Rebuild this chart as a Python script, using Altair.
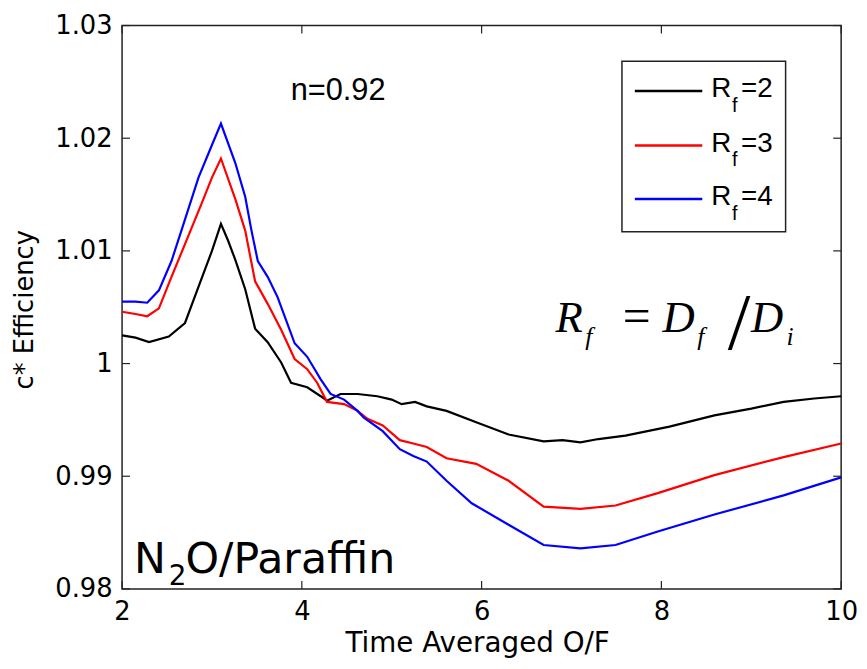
import altair as alt
import pandas as pd

# ---- data ----
x_rf2 = [2.0, 2.15, 2.3, 2.52, 2.7, 2.85, 3.0, 3.1, 3.18, 3.26, 3.37, 3.48, 3.62, 3.77, 3.88,
         4.06, 4.21, 4.28, 4.43, 4.62, 4.84, 5.0, 5.11, 5.26, 5.39, 5.61, 5.94, 6.3, 6.69, 6.9,
         7.1, 7.3, 7.6, 8.09, 8.59, 9.0, 9.36, 9.7, 10.0]
y_rf2 = [1.0025, 1.0023, 1.0019, 1.0024, 1.0036, 1.0068, 1.0100, 1.0124, 1.0109, 1.0092, 1.0066,
         1.0031, 1.0019, 1.0001, 0.9983, 0.9979, 0.9971, 0.9967, 0.9973, 0.9973, 0.9971, 0.9968,
         0.9964, 0.9966, 0.9962, 0.9958, 0.9948, 0.9937, 0.9931, 0.9932, 0.9930, 0.9933, 0.9936,
         0.9944, 0.9954, 0.9960, 0.9966, 0.9969, 0.9971]

x_rf3 = [2.0, 2.15, 2.28, 2.41, 2.55, 2.7, 2.88, 3.0, 3.1, 3.26, 3.37, 3.48, 3.62, 3.77, 3.92,
         4.06, 4.17, 4.28, 4.47, 4.62, 4.73, 4.9, 5.09, 5.24, 5.39, 5.61, 5.94, 6.3, 6.69, 7.1,
         7.49, 7.96, 8.59, 9.36, 10.0]
y_rf3 = [1.0046, 1.0044, 1.0042, 1.0049, 1.0077, 1.0106, 1.0141, 1.0165, 1.0182, 1.0146, 1.0118,
         1.0073, 1.0053, 1.0030, 1.0004, 0.9995, 0.9983, 0.9966, 0.9964, 0.9958, 0.9951, 0.9945,
         0.9932, 0.9929, 0.9926, 0.9916, 0.9911, 0.9896, 0.9873, 0.9871, 0.9874, 0.9885, 0.9901,
         0.9917, 0.9929]

x_rf4 = [2.0, 2.15, 2.28, 2.41, 2.55, 2.66, 2.85, 3.0, 3.1, 3.26, 3.37, 3.44, 3.51, 3.62, 3.73,
         3.92, 4.06, 4.21, 4.32, 4.47, 4.62, 4.69, 4.9, 5.09, 5.24, 5.39, 5.61, 5.89, 6.3, 6.69,
         7.1, 7.49, 7.96, 8.59, 9.36, 10.0]
y_rf4 = [1.0055, 1.0055, 1.0054, 1.0065, 1.0091, 1.0118, 1.0165, 1.0194, 1.0213, 1.0178, 1.0148,
         1.0118, 1.0091, 1.0077, 1.0059, 1.0018, 1.0006, 0.9986, 0.9973, 0.9968, 0.9958, 0.9952,
         0.9940, 0.9924, 0.9918, 0.9913, 0.9896, 0.9876, 0.9857, 0.9839, 0.9836, 0.9839, 0.9851,
         0.9866, 0.9883, 0.9899]

series_names = ["Rf=2", "Rf=3", "Rf=4"]
series_colors = ["#000000", "#ff0000", "#0000ff"]
x_ticks = [2, 4, 6, 8, 10]
y_ticks = [0.98, 0.99, 1.0, 1.01, 1.02, 1.03]

W, H = 725, 568
SANS = "DejaVu Sans"
ARIAL = "Liberation Sans"
SERIF = "Liberation Serif"

rows = []
for name, xs, ys in zip(series_names, [x_rf2, x_rf3, x_rf4], [y_rf2, y_rf3, y_rf4]):
    for xv, yv in zip(xs, ys):
        rows.append({"x": xv, "y": yv, "series": name})
df = pd.DataFrame(rows)

xscale = alt.Scale(domain=[2, 10], nice=False, zero=False)
yscale = alt.Scale(domain=[0.98, 1.03], nice=False, zero=False)

lines = alt.Chart(df).mark_line(strokeWidth=2.2).encode(
    x=alt.X("x:Q", scale=xscale, axis=alt.Axis(
        values=x_ticks, format="d", title="Time Averaged O/F", ticks=False, tickSize=0, domain=False,
        grid=False, labelPadding=10, labelFlush=False, labelOverlap=False,
        labelFont=SANS, labelFontSize=26, labelColor="black",
        titleFont=SANS, titleFontSize=28, titleFontWeight="normal", titleColor="black",
        titleX=358, titleY=63, titleBaseline="alphabetic", titleAlign="center")),
    y=alt.Y("y:Q", scale=yscale, axis=alt.Axis(
        values=y_ticks, title="c* Efficiency", ticks=False, tickSize=0, domain=False,
        grid=False, labelPadding=10, labelOverlap=False,
        labelExpr="datum.value == 1 ? '1' : format(datum.value, '.2f')",
        labelFont=SANS, labelFontSize=26, labelColor="black",
        titleFont=SANS, titleFontSize=26, titleFontWeight="normal", titleColor="black",
        titleX=-90, titleY=286, titleAngle=270, titleBaseline="alphabetic", titleAlign="center")),
    color=alt.Color("series:N", scale=alt.Scale(domain=series_names, range=series_colors), legend=None),
    order=alt.Order("x:Q"),
)

xt = pd.DataFrame({"xt": x_ticks})
yt = pd.DataFrame({"yt": y_ticks})
TL = 8
tick_color = "#222222"
ticks_bottom = alt.Chart(xt).mark_rule(color=tick_color, strokeWidth=1.2).encode(
    x=alt.X("xt:Q", scale=xscale), y=alt.value(H), y2=alt.value(H - TL))
ticks_top = alt.Chart(xt).mark_rule(color=tick_color, strokeWidth=1.2).encode(
    x=alt.X("xt:Q", scale=xscale), y=alt.value(0), y2=alt.value(TL))
ticks_left = alt.Chart(yt).mark_rule(color=tick_color, strokeWidth=1.2).encode(
    y=alt.Y("yt:Q", scale=yscale), x=alt.value(0), x2=alt.value(TL))
ticks_right = alt.Chart(yt).mark_rule(color=tick_color, strokeWidth=1.2).encode(
    y=alt.Y("yt:Q", scale=yscale), x=alt.value(W), x2=alt.value(W - TL))


def label(text, x, y, font, size, italic=False, align="left"):
    return alt.Chart(pd.DataFrame({"t": [text]})).mark_text(
        font=font, fontSize=size, fontStyle="italic" if italic else "normal",
        align=align, baseline="alphabetic", color="black").encode(
        text="t:N", x=alt.value(x), y=alt.value(y))


layers = [lines, ticks_bottom, ticks_top, ticks_left, ticks_right]

# annotations
layers.append(label("n=0.92", 170, 75, ARIAL, 31))
layers += [
    label("N", 12, 552, SANS, 43),
    label("2", 47, 564, SANS, 28),
    label("O/Paraffin", 64, 552, SANS, 43),
]
layers += [
    label("R", 437, 309, SERIF, 45, italic=True),
    label("f", 467, 322, SERIF, 26, italic=True),
    label("=", 519, 309, SERIF, 50, align="center"),
    label("D", 545, 309, SERIF, 45, italic=True),
    label("f", 580, 322, SERIF, 26, italic=True),
    label("/", 622, 326, SERIF, 82, align="center"),
    label("D", 634, 309, SERIF, 45, italic=True),
    label("i", 670, 322, SERIF, 26, italic=True),
]

# legend
legend_box = alt.Chart(pd.DataFrame({"a": [0]})).mark_rect(
    fill="white", stroke="#222222", strokeWidth=1.5).encode(
    x=alt.value(504), x2=alt.value(669), y=alt.value(36), y2=alt.value(208))
layers.append(legend_box)
row_y = [66, 121, 175]
for name, col, ry in zip(series_names, series_colors, row_y):
    layers.append(alt.Chart(pd.DataFrame({"s": [name]})).mark_rule(color=col, strokeWidth=2.5).encode(
        x=alt.value(517), x2=alt.value(585), y=alt.value(ry)))
    layers.append(label("R", 594, ry + 6, ARIAL, 28))
    layers.append(label("f", 615, ry + 21, ARIAL, 20))
    layers.append(label("=" + name.split("=")[1], 624, ry + 6, ARIAL, 28))

chart = alt.layer(*layers).properties(
    width=W, height=H,
    autosize=alt.AutoSizeParams(type="none"),
    padding={"left": 115, "top": 15, "right": 18, "bottom": 70},
    background="white",
).configure_view(stroke="#222222", strokeWidth=1.5)

chart.save("out.html", embed_options={"renderer": "svg", "actions": False})
